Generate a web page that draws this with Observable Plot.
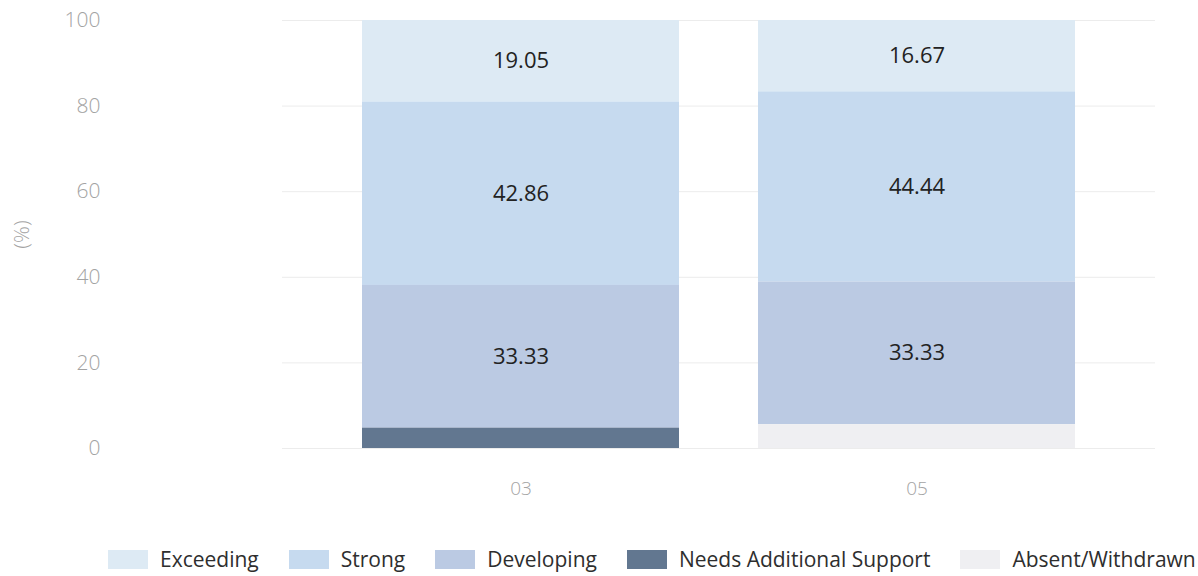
<!DOCTYPE html>
<html>
<head>
<meta charset="utf-8">
<script src="https://cdn.jsdelivr.net/npm/d3@7"></script>
<script src="https://cdn.jsdelivr.net/npm/@observablehq/plot@0.6"></script>
<style>
  html, body { margin: 0; padding: 0; background: #fff; }
  body { width: 1198px; height: 576px; position: relative; overflow: hidden; font-family: "Open Sans", "Noto Sans", sans-serif; }
  #chart { position: absolute; left: 0; top: 0; }
  #legend { position: absolute; left: 108px; top: 545px; display: flex; align-items: center; font-size: 21px; color: #2e2e2e; white-space: nowrap; }
  .item { display: flex; align-items: center; margin-right: 30px; }
  .item:last-child { margin-right: 0; }
  .swatch { width: 40px; height: 19px; margin-right: 12px; }
</style>
</head>
<body>
<div id="chart"></div>
<div id="legend"></div>
<script>
// Grade groups along the x axis
const groups = ["03", "05"];

// Achievement levels, top of the stack first
const categories = ["Exceeding", "Strong", "Developing", "Needs Additional Support", "Absent/Withdrawn"];

// Percent of students in each level, per group (same order as categories)
const values03 = [19.05, 42.86, 33.33, 4.76, 0];
const values05 = [16.67, 44.44, 33.33, 0, 5.56];

// Y axis ticks
const yTicks = [0, 20, 40, 60, 80, 100];

const colors = ["#ddeaf4", "#c6daef", "#bbcae3", "#627790", "#efeff2"];

// Long table for the stacked bars
const series = {"03": values03, "05": values05};
const rows = groups.flatMap(g => categories.map((c, i) => ({group: g, level: c, value: series[g][i]})));

// Stack from the bottom: absent / needs support, then developing, strong, exceeding
const stackOrder = categories.slice().reverse();

const chart = Plot.plot({
  width: 1198,
  height: 520,
  marginTop: 20,
  marginBottom: 72,
  marginLeft: 282,
  marginRight: 43,
  style: {fontFamily: "'Open Sans', 'Noto Sans', sans-serif", background: "transparent"},
  x: {domain: groups, padding: 0.2},
  y: {domain: [0, 100]},
  color: {domain: categories, range: colors},
  marks: [
    Plot.gridY(yTicks, {stroke: "#ececec", strokeOpacity: 1}),
    Plot.barY(rows, Plot.stackY({order: stackOrder}, {x: "group", y: "value", fill: "level"})),
    Plot.text(rows, Plot.stackY({order: stackOrder}, {
      x: "group", y: "value", z: "level",
      text: d => d.value >= 10 ? d.value.toFixed(2) : "",
      fill: "#222", fontSize: 22
    })),
    Plot.axisY(yTicks, {
      tickSize: 0, tickPadding: 182, fontSize: 21, fill: "#a3a3a3", fontWeight: 300,
      label: "(%)", labelAnchor: "center", labelArrow: "none", labelOffset: 268
    }),
    Plot.axisX({tickSize: 0, tickPadding: 33, fontSize: 19, fill: "#a3a3a3", fontWeight: 300, label: null})
  ]
});
document.getElementById("chart").appendChild(chart);

// Legend row below the plot
const legend = document.getElementById("legend");
categories.forEach((c, i) => {
  const item = document.createElement("div");
  item.className = "item";
  const sw = document.createElement("span");
  sw.className = "swatch";
  sw.style.background = colors[i];
  const label = document.createElement("span");
  label.textContent = c;
  item.appendChild(sw);
  item.appendChild(label);
  legend.appendChild(item);
});
</script>
</body>
</html>
